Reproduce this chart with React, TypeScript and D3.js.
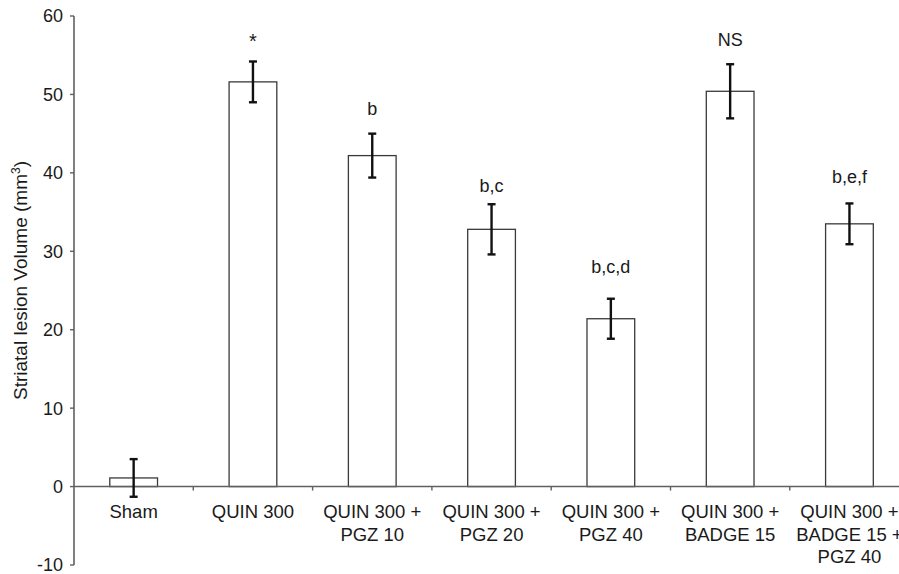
import React, { useEffect } from 'react';
import { scaleLinear, scaleBand, range } from 'd3';

// groups, one entry per bar, each label split into its lines
const groups = [
  ['Sham'],
  ['QUIN 300'],
  ['QUIN 300 +', 'PGZ 10'],
  ['QUIN 300 +', 'PGZ 20'],
  ['QUIN 300 +', 'PGZ 40'],
  ['QUIN 300 +', 'BADGE 15'],
  ['QUIN 300 +', 'BADGE 15 +', 'PGZ 40'],
];
const means = [1.1, 51.6, 42.2, 32.8, 21.4, 50.4, 33.5];
const errs = [2.4, 2.6, 2.8, 3.2, 2.55, 3.45, 2.6];
const marks = ['', '*', 'b', 'b,c', 'b,c,d', 'NS', 'b,e,f'];
// baseline of each significance mark, in mm3 units
const markAt = [0, 55.9, 47.4, 37.5, 27.2, 56.2, 38.7];
const yTicks = [-10, 0, 10, 20, 30, 40, 50, 60];

const W = 899;
const H = 574;
const font = '"Liberation Sans", Arial, Helvetica, sans-serif';

export default function App() {
  useEffect(() => {
    document.body.style.margin = '0';
  }, []);

  const keys = groups.map((g, i) => String(i));
  const x = scaleBand().domain(keys).range([74, 74 + 7 * 119.3]).paddingInner(0).paddingOuter(0);
  const y = scaleLinear().domain([-10, 60]).range([565, 16]);
  const bw = x.bandwidth() * 0.4;

  return (
    <svg width={W} height={H} style={{ display: 'block', background: '#fff' }} fontFamily={font}>
      {/* y axis */}
      <line x1={74} x2={74} y1={y(60)} y2={y(-10)} stroke="#606060" strokeWidth={1.6} />
      {yTicks.map(t => (
        <g key={t}>
          <line x1={70} x2={74} y1={y(t)} y2={y(t)} stroke="#606060" strokeWidth={1.4} />
          <text x={63} y={y(t)} dy="0.36em" textAnchor="end" fontSize={18} fill="#1a1a1a">{t}</text>
        </g>
      ))}
      <text transform={`translate(27,${(y(60) + y(-10)) / 2 - 10}) rotate(-90)`} textAnchor="middle" fontSize={19} fill="#1a1a1a">
        Striatal lesion Volume (mm<tspan baselineShift="super" fontSize={12}>3</tspan>)
      </text>

      {/* bars */}
      {means.map((m, i) => {
        const cx = x(keys[i])! + x.bandwidth() / 2;
        return (
          <g key={i}>
            <rect x={cx - bw / 2} y={y(m)} width={bw} height={y(0) - y(m)} fill="#fff" stroke="#3a3a3a" strokeWidth={1.3} />
          </g>
        );
      })}

      {/* x axis */}
      <line x1={74} x2={W} y1={y(0)} y2={y(0)} stroke="#606060" strokeWidth={1.6} />
      {range(1, groups.length).map(i => (
        <line key={i} x1={x(keys[i])!} x2={x(keys[i])!} y1={y(0)} y2={y(0) + 4} stroke="#606060" strokeWidth={1.4} />
      ))}

      {/* error bars and marks */}
      {means.map((m, i) => {
        const cx = x(keys[i])! + x.bandwidth() / 2;
        const top = y(m + errs[i]);
        const bot = y(m - errs[i]);
        return (
          <g key={i}>
            <line x1={cx} x2={cx} y1={top} y2={bot} stroke="#111" strokeWidth={2.4} />
            <line x1={cx - 4} x2={cx + 4} y1={top} y2={top} stroke="#111" strokeWidth={2.4} />
            <line x1={cx - 4} x2={cx + 4} y1={bot} y2={bot} stroke="#111" strokeWidth={2.4} />
            {marks[i] && (
              <text x={cx} y={y(markAt[i])} textAnchor="middle" fontSize={marks[i] === '*' ? 20 : 18} fill="#1a1a1a">{marks[i]}</text>
            )}
          </g>
        );
      })}

      {/* category labels */}
      {groups.map((lines, i) => {
        const cx = x(keys[i])! + x.bandwidth() / 2;
        return (
          <text key={i} x={cx} y={518} textAnchor="middle" fontSize={18.5} fill="#1a1a1a">
            {lines.map((l, j) => (
              <tspan key={j} x={cx} y={518 + j * 22.5}>{l}</tspan>
            ))}
          </text>
        );
      })}
    </svg>
  );
}
